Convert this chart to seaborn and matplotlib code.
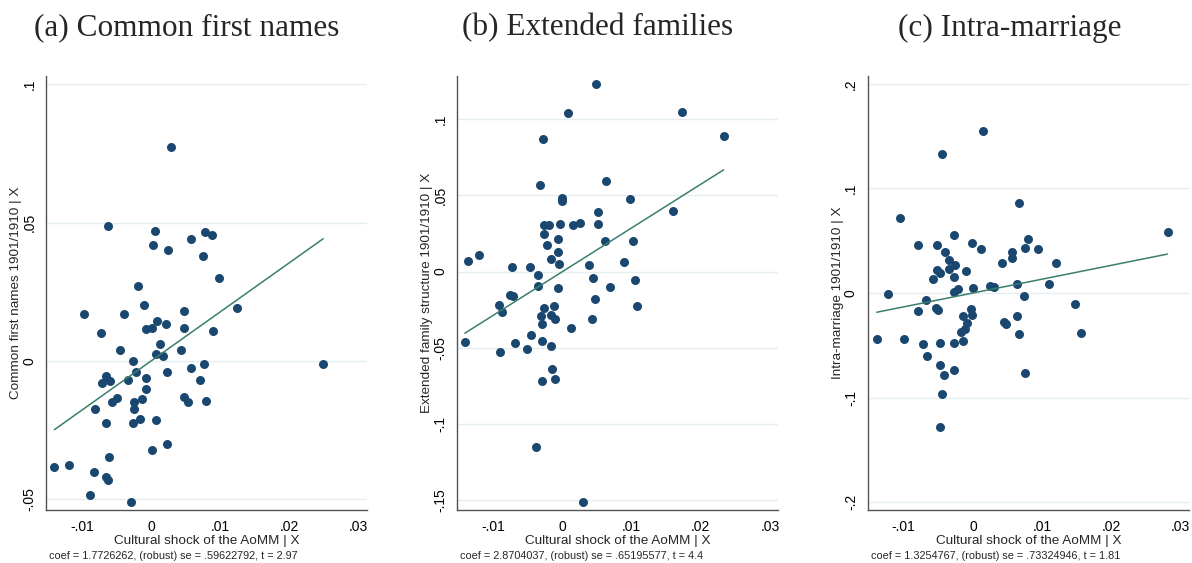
import numpy as np
import matplotlib
matplotlib.use("Agg")
import matplotlib.pyplot as plt
import seaborn as sns

# ---------------------------------------------------------------------------
# Added-variable plot data: residualised values (x | X, y | X)
# ---------------------------------------------------------------------------
names_x = [0.0029, -0.0062, 0.0005, 0.0003, 0.0024, 0.0058, 0.0078, 0.0088,
           0.0075, 0.0098, -0.0019, -0.0010, 0.0048, 0.0124, -0.0097, -0.0039,
           -0.0073, -0.0008, 0.0002, 0.0009, 0.0022, 0.0047, 0.0090, 0.0013,
           -0.0045, 0.0044, 0.0007, 0.0018, -0.0026, 0.0077, 0.0249, -0.0022,
           0.0023, 0.0058, -0.0065, -0.0071, -0.0059, -0.0034, -0.0008, 0.0071,
           -0.0008, -0.0056, -0.0049, -0.0025, -0.0013, 0.0047, 0.0054, 0.0080,
           -0.0081, -0.0025, -0.0016, -0.0065, -0.0026, 0.0007, 0.0023, 0.0002,
           -0.0061, -0.0140, -0.0119, -0.0083, -0.0065, -0.0062, -0.0089, -0.0029]
names_y = [0.0774, 0.0489, 0.0468, 0.0419, 0.0401, 0.0442, 0.0465, 0.0456,
           0.0379, 0.0299, 0.0270, 0.0202, 0.0179, 0.0192, 0.0171, 0.0169,
           0.0102, 0.0114, 0.0120, 0.0143, 0.0133, 0.0120, 0.0107, 0.0063,
           0.0041, 0.0038, 0.0024, 0.0018, 0.0000, -0.0010, -0.0012, -0.0041,
           -0.0038, -0.0026, -0.0055, -0.0081, -0.0072, -0.0067, -0.0061, -0.0067,
           -0.0101, -0.0148, -0.0132, -0.0147, -0.0137, -0.0130, -0.0149, -0.0145,
           -0.0175, -0.0172, -0.0209, -0.0224, -0.0224, -0.0213, -0.0298, -0.0321,
           -0.0346, -0.0382, -0.0375, -0.0400, -0.0418, -0.0430, -0.0483, -0.0510]

family_x = [0.0048, 0.0008, 0.0173, 0.0233, -0.0028, -0.0032, 0.0063, 0.0000,
            0.0000, 0.0097, 0.0160, 0.0051, -0.0026, -0.0020, -0.0004, 0.0015,
            0.0026, 0.0051, -0.0026, -0.0007, 0.0061, 0.0102, -0.0023, -0.0007,
            -0.0136, -0.0120, -0.0017, -0.0005, 0.0039, 0.0089, -0.0073, -0.0047,
            -0.0036, 0.0044, 0.0105, -0.0035, -0.0007, 0.0069, -0.0076, -0.0071,
            0.0047, -0.0092, -0.0088, -0.0027, -0.0012, 0.0108, -0.0031, -0.0017,
            -0.0011, -0.0030, 0.0042, 0.0013, -0.0045, -0.0141, -0.0069, -0.0030,
            -0.0017, -0.0090, -0.0051, -0.0015, -0.0029, -0.0011, -0.0038, 0.0029]
family_y = [0.1230, 0.1044, 0.1046, 0.0893, 0.0868, 0.0568, 0.0594, 0.0485,
            0.0463, 0.0476, 0.0399, 0.0390, 0.0305, 0.0307, 0.0316, 0.0309,
            0.0320, 0.0314, 0.0248, 0.0211, 0.0200, 0.0200, 0.0175, 0.0129,
            0.0068, 0.0110, 0.0083, 0.0050, 0.0042, 0.0064, 0.0031, 0.0031,
            -0.0020, -0.0042, -0.0053, -0.0096, -0.0110, -0.0099, -0.0156, -0.0162,
            -0.0182, -0.0221, -0.0268, -0.0239, -0.0226, -0.0226, -0.0294, -0.0285,
            -0.0311, -0.0342, -0.0309, -0.0373, -0.0417, -0.0461, -0.0471, -0.0454,
            -0.0491, -0.0526, -0.0511, -0.0640, -0.0717, -0.0706, -0.1151, -0.1513]

marriage_x = [0.0014, -0.0044, 0.0066, -0.0105, 0.0281, -0.0027, -0.0079, -0.0052,
              -0.0002, 0.0080, -0.0040, 0.0011, 0.0075, 0.0094, 0.0056, 0.0056,
              -0.0035, 0.0042, 0.0120, -0.0026, -0.0035, -0.0052, -0.0047, -0.0010,
              -0.0057, -0.0027, -0.0027, -0.0022, 0.0000, 0.0024, 0.0031, 0.0063,
              0.0110, -0.0123, -0.0068, 0.0074, 0.0147, -0.0080, -0.0053, -0.0050,
              -0.0003, -0.0014, -0.0002, 0.0063, 0.0045, 0.0048, -0.0008, -0.0012,
              -0.0017, 0.0067, 0.0156, -0.0139, -0.0099, -0.0072, -0.0047, -0.0027,
              -0.0015, -0.0066, -0.0047, -0.0042, -0.0027, 0.0075, -0.0045, -0.0047]
marriage_y = [0.1551, 0.1331, 0.0860, 0.0713, 0.0583, 0.0554, 0.0455, 0.0455,
              0.0478, 0.0516, 0.0389, 0.0420, 0.0427, 0.0424, 0.0392, 0.0331,
              0.0318, 0.0283, 0.0290, 0.0268, 0.0229, 0.0217, 0.0188, 0.0213,
              0.0134, 0.0153, 0.0013, 0.0035, 0.0051, 0.0067, 0.0061, 0.0083,
              0.0083, -0.0010, -0.0067, -0.0029, -0.0105, -0.0169, -0.0143, -0.0166,
              -0.0153, -0.0220, -0.0213, -0.0223, -0.0280, -0.0293, -0.0283, -0.0341,
              -0.0369, -0.0389, -0.0379, -0.0436, -0.0436, -0.0490, -0.0475, -0.0475,
              -0.0459, -0.0602, -0.0691, -0.0787, -0.0739, -0.0764, -0.0965, -0.1283]

# Regression statistics printed under each panel
coefs = [1.7726262, 2.8704037, 1.3254767]
ses = [".59622792", ".65195577", ".73324946"]
tstats = ["2.97", "4.4", "1.81"]

titles = ["(a) Common first names", "(b) Extended families", "(c) Intra-marriage"]
ylabels = ["Common first names 1901/1910 | X",
           "Extended family structure 1901/1910 | X",
           "Intra-marriage 1901/1910 | X"]
xlabel = "Cultural shock of the AoMM | X"

x_ticks = [-0.01, 0.0, 0.01, 0.02, 0.03]
y_ticks = [[-0.05, 0.0, 0.05, 0.1],
           [-0.15, -0.1, -0.05, 0.0, 0.05, 0.1],
           [-0.2, -0.1, 0.0, 0.1, 0.2]]
y_limits = [(-0.0538, 0.1029), (-0.1566, 0.1285), (-0.2076, 0.2076)]
x_limits = (-0.0152, 0.0312)

# ---------------------------------------------------------------------------
NAVY = "#1A476F"
TEAL = "#3A7E6C"
AXIS = "#555555"
GRID = "#E4EEF0"

sns.set_style("white")
plt.rcParams["font.family"] = ["Liberation Sans", "DejaVu Sans"]

W, H = 1192, 563
fig = plt.figure(figsize=(W / 100, H / 100), dpi=100)


def stata_num(v):
    """Format a tick value the Stata way: no leading zero."""
    s = f"{v:g}"
    if s.startswith("0."):
        s = s[1:]
    elif s.startswith("-0."):
        s = "-" + s[2:]
    return s


# plot regions in pixels: (left, right, top, bottom)
regions = [(46, 366.7, 76, 510), (457.3, 778.3, 76, 510), (867.7, 1189, 76, 510)]
title_centers = [187, 598, 1010]

xs_all = [names_x, family_x, marriage_x]
ys_all = [names_y, family_y, marriage_y]

for i in range(3):
    l, r, t, b = regions[i]
    axw, axh = r - l, b - t
    ax = fig.add_axes([l / W, 1 - b / H, axw / W, axh / H])

    xv = np.array(xs_all[i])
    yv = np.array(ys_all[i])
    sns.scatterplot(x=xv, y=yv, ax=ax, color=NAVY, s=42, linewidth=0, zorder=3)

    # fitted line through the residual means (slope = reported coefficient)
    xl = np.array([xv.min(), xv.max()])
    sns.lineplot(x=xl, y=coefs[i] * xl, ax=ax, color=TEAL, linewidth=1.1, zorder=4)

    ax.set_xlim(*x_limits)
    ax.set_ylim(*y_limits[i])
    ax.set_xticks(x_ticks)
    ax.set_xticklabels([stata_num(v) for v in x_ticks])
    ax.set_yticks(y_ticks[i])
    ax.set_yticklabels([stata_num(v) for v in y_ticks[i]], rotation=90, va="center")

    ax.yaxis.grid(True, color=GRID, linewidth=1.0)
    ax.xaxis.grid(False)
    ax.set_axisbelow(True)

    for side in ("top", "right"):
        ax.spines[side].set_visible(False)
    for side in ("left", "bottom"):
        ax.spines[side].set_color(AXIS)
        ax.spines[side].set_linewidth(1.0)

    ax.tick_params(axis="both", direction="out", length=5, width=0.9,
                   color=AXIS, labelsize=10, labelcolor="black")
    ax.tick_params(axis="x", pad=2)
    ax.tick_params(axis="y", pad=2)

    ax.set_xlabel(xlabel, fontsize=9.7, va="center")
    ax.xaxis.set_label_coords(0.5, -(541 - b) / axh)
    ax.set_ylabel(ylabels[i], fontsize=9.7, va="center")
    ax.yaxis.set_label_coords(-30 / axw, 0.5)

    ax.text(3 / axw, -(556 - b) / axh,
            f"coef = {coefs[i]:.7f}, (robust) se = {ses[i]}, t = {tstats[i]}",
            transform=ax.transAxes, fontsize=7.8, ha="left", va="center")

    fig.text(title_centers[i] / W, 1 - 28 / H, titles[i],
             family=["Liberation Serif", "DejaVu Serif"], fontsize=22.5,
             ha="center", va="center")

fig.savefig("out.png", dpi=100, facecolor="white")
